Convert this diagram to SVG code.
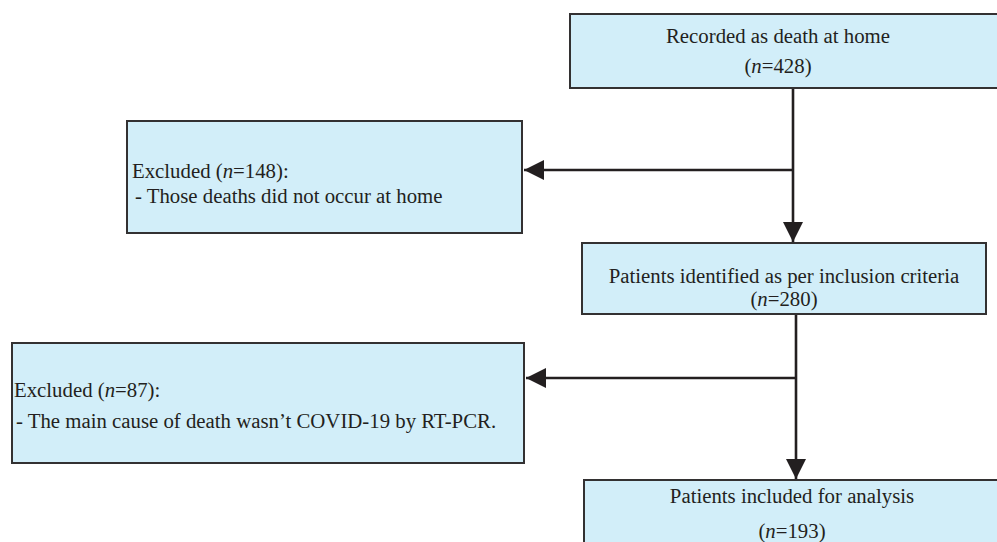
<svg xmlns="http://www.w3.org/2000/svg" width="997" height="542" viewBox="0 0 997 542">
<defs>
<style>
.box{fill:#d2eef9;stroke:#333132;stroke-width:2}
.t{font-family:"Liberation Serif","Times New Roman",serif;font-size:20.8px;fill:#231f20}
.c{text-anchor:middle}
.line{fill:none;stroke:#231f20;stroke-width:2.6}
</style>
<marker id="ah" viewBox="0 0 20 20" refX="20" refY="10" markerWidth="20" markerHeight="20" markerUnits="userSpaceOnUse" orient="auto">
<path d="M0,0 L20,10 L0,20 Z" fill="#231f20"/>
</marker>
</defs>
<rect width="997" height="542" fill="#ffffff"/>
<g id="connectors">
<line class="line" x1="793" y1="88" x2="793" y2="242" marker-end="url(#ah)"/>
<line class="line" x1="793" y1="170" x2="524" y2="170" marker-end="url(#ah)"/>
<line class="line" x1="796" y1="314" x2="796" y2="479" marker-end="url(#ah)"/>
<line class="line" x1="796" y1="378" x2="526" y2="378" marker-end="url(#ah)"/>
</g>
<g id="node-recorded">
<rect class="box" x="570" y="14" width="440" height="74"/>
<text class="t c" x="778" y="43">Recorded as death at home</text>
<text class="t c" x="778" y="73">(<tspan font-style="italic">n</tspan>=428)</text>
</g>
<g id="node-excluded1">
<rect class="box" x="127" y="121" width="395" height="112"/>
<text class="t" x="132" y="178">Excluded (<tspan font-style="italic">n</tspan>=148):</text>
<text class="t" x="135" y="203">- Those deaths did not occur at home</text>
</g>
<g id="node-identified">
<rect class="box" x="582" y="243" width="404" height="71"/>
<text class="t c" x="784" y="283">Patients identified as per inclusion criteria</text>
<text class="t c" x="784" y="306">(<tspan font-style="italic">n</tspan>=280)</text>
</g>
<g id="node-excluded2">
<rect class="box" x="12" y="343" width="512" height="120"/>
<text class="t" x="14" y="397">Excluded (<tspan font-style="italic">n</tspan>=87):</text>
<text class="t" x="16" y="428">- The main cause of death wasn’t COVID-19 by RT-PCR.</text>
</g>
<g id="node-included">
<rect class="box" x="584" y="480" width="430" height="80"/>
<text class="t c" x="792" y="503">Patients included for analysis</text>
<text class="t c" x="792" y="538">(<tspan font-style="italic">n</tspan>=193)</text>
</g>
</svg>
